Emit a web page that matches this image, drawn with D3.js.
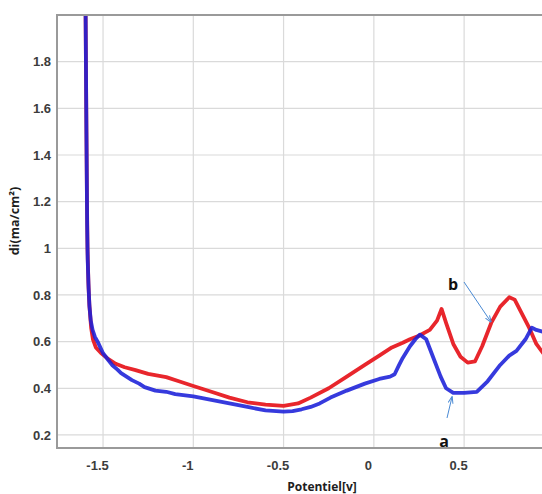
<!DOCTYPE html>
<html>
<head>
<meta charset="utf-8">
<script src="https://cdn.jsdelivr.net/npm/d3@7"></script>
<style>
  html, body { margin: 0; padding: 0; background: #ffffff; }
  svg { display: block; }
</style>
</head>
<body>
<svg id="chart" width="542" height="494"></svg>
<script>
// Axis ticks
const xTicks = [-1.5, -1, -0.5, 0, 0.5];
const xTickLabels = ["-1.5", "-1", "-0.5", "0", "0.5"];
const yTicks = [0.2, 0.4, 0.6, 0.8, 1.0, 1.2, 1.4, 1.6, 1.8];
const yTickLabels = ["0.2", "0.4", "0.6", "0.8", "1", "1.2", "1.4", "1.6", "1.8"];

// Curve a (blue): potential [V] and current density [mA/cm²]
const potentialA = [-1.597, -1.592, -1.588, -1.585, -1.580, -1.575, -1.568, -1.558, -1.545, -1.530,
  -1.500, -1.470, -1.450, -1.420, -1.400, -1.370, -1.340, -1.300, -1.270, -1.210,
  -1.150, -1.100, -1.000, -0.900, -0.800, -0.700, -0.600, -0.500, -0.450, -0.400,
  -0.350, -0.300, -0.240, -0.150, -0.050, 0.030, 0.090, 0.115, 0.140, 0.160,
  0.200, 0.230, 0.255, 0.290, 0.330, 0.370, 0.400, 0.440, 0.500, 0.570,
  0.630, 0.700, 0.750, 0.790, 0.840, 0.875, 0.900, 0.948];
const currentA = [2.05, 1.50, 1.10, 0.95, 0.83, 0.75, 0.69, 0.65, 0.62, 0.60,
  0.55, 0.52, 0.50, 0.48, 0.465, 0.45, 0.435, 0.42, 0.405, 0.39,
  0.385, 0.375, 0.365, 0.35, 0.335, 0.32, 0.305, 0.30, 0.302, 0.31,
  0.32, 0.335, 0.36, 0.39, 0.42, 0.44, 0.45, 0.46, 0.50, 0.53,
  0.58, 0.61, 0.63, 0.61, 0.53, 0.45, 0.40, 0.38, 0.38, 0.385,
  0.43, 0.50, 0.54, 0.56, 0.61, 0.66, 0.65, 0.64];

// Curve b (red)
const potentialB = [-1.597, -1.593, -1.589, -1.586, -1.581, -1.576, -1.566, -1.556, -1.540, -1.510,
  -1.470, -1.430, -1.380, -1.320, -1.250, -1.150, -1.080, -1.000, -0.900, -0.800,
  -0.700, -0.600, -0.500, -0.420, -0.350, -0.250, -0.150, -0.050, 0.030, 0.100,
  0.160, 0.200, 0.250, 0.310, 0.350, 0.375, 0.400, 0.440, 0.480, 0.520,
  0.560, 0.600, 0.650, 0.700, 0.750, 0.780, 0.820, 0.860, 0.900, 0.948];
const currentB = [2.05, 1.60, 1.20, 1.00, 0.85, 0.76, 0.66, 0.61, 0.575, 0.55,
  0.525, 0.505, 0.49, 0.478, 0.462, 0.448, 0.43, 0.41, 0.385, 0.36,
  0.34, 0.33, 0.325, 0.335, 0.36, 0.40, 0.45, 0.50, 0.54, 0.575,
  0.595, 0.61, 0.625, 0.65, 0.69, 0.74, 0.68, 0.59, 0.535, 0.51,
  0.515, 0.58, 0.68, 0.75, 0.79, 0.78, 0.72, 0.66, 0.59, 0.54];

const svg = d3.select("#chart");
const plot = { left: 57, right: 545, top: 15, bottom: 448 };

const x = d3.scaleLinear().domain([-1.755, 0.948]).range([plot.left, plot.right]);
const y = d3.scaleLinear().domain([0.144, 2.0]).range([plot.bottom, plot.top]);

// Gridlines
const grid = svg.append("g").attr("stroke", "#dadada").attr("stroke-width", 1.2);
grid.selectAll("line.h").data(yTicks).join("line")
  .attr("x1", plot.left).attr("x2", 542)
  .attr("y1", d => y(d)).attr("y2", d => y(d));
grid.selectAll("line.v").data(xTicks).join("line")
  .attr("x1", d => x(d)).attr("x2", d => x(d))
  .attr("y1", plot.top).attr("y2", plot.bottom);

// Curves, clipped to the plotting frame
svg.append("clipPath").attr("id", "plotClip")
  .append("rect").attr("x", plot.left).attr("y", plot.top)
  .attr("width", 542 - plot.left).attr("height", plot.bottom - plot.top);

const line = d3.line().x(d => x(d[0])).y(d => y(d[1]));
const curves = svg.append("g").attr("clip-path", "url(#plotClip)");
curves.append("path")
  .datum(d3.zip(potentialB, currentB))
  .attr("d", line)
  .attr("fill", "none").attr("stroke", "#e8262c").attr("stroke-width", 3.8)
  .attr("stroke-linejoin", "round").attr("stroke-linecap", "round");
curves.append("path")
  .datum(d3.zip(potentialA, currentA))
  .attr("d", line)
  .attr("fill", "none").attr("stroke", "#1a1fd8").attr("stroke-width", 3.8)
  .attr("stroke-opacity", 0.88)
  .attr("stroke-linejoin", "round").attr("stroke-linecap", "round");

// Frame
const frame = svg.append("g").attr("stroke", "#9a9a9a").attr("stroke-width", 2).attr("fill", "none");
frame.append("path").attr("d", `M542,${plot.top}H${plot.left}V${plot.bottom}H542`);

// Axes
const yAxis = d3.axisLeft(y).tickValues(yTicks)
  .tickFormat((d, i) => yTickLabels[i]).tickSize(0).tickPadding(6);
const gy = svg.append("g").attr("transform", `translate(${plot.left},0)`).call(yAxis);
gy.select(".domain").remove();
gy.selectAll("text")
  .attr("font-family", "Liberation Sans, Arial, sans-serif")
  .attr("font-weight", "bold").attr("font-size", 13).attr("fill", "#3c3c3c");

const xAxis = d3.axisBottom(x).tickValues(xTicks)
  .tickFormat((d, i) => xTickLabels[i]).tickSize(0).tickPadding(13);
const gx = svg.append("g").attr("transform", `translate(0,${plot.bottom})`).call(xAxis);
gx.select(".domain").remove();
gx.selectAll("text")
  .attr("dx", -6)
  .attr("font-family", "Liberation Sans, Arial, sans-serif")
  .attr("font-weight", "bold").attr("font-size", 13).attr("fill", "#3c3c3c");

// Axis titles
svg.append("text")
  .attr("transform", "translate(19,221) rotate(-90)")
  .attr("text-anchor", "middle")
  .attr("font-family", "Open Sans, sans-serif").attr("font-weight", "bold")
  .attr("font-size", 12.5).attr("fill", "#1e1e1e")
  .text("di(ma/cm²)");
svg.append("text")
  .attr("x", 322).attr("y", 491)
  .attr("text-anchor", "middle")
  .attr("font-family", "Open Sans, sans-serif").attr("font-weight", "bold")
  .attr("font-size", 12).attr("fill", "#1e1e1e")
  .text("Potentiel[v]");

// Curve labels with pointer arrows
svg.append("defs").append("marker")
  .attr("id", "arrowHead").attr("viewBox", "0 0 10 10")
  .attr("refX", 9).attr("refY", 5)
  .attr("markerWidth", 7).attr("markerHeight", 7)
  .attr("orient", "auto")
  .append("path").attr("d", "M0,1.5L10,5L0,8.5").attr("fill", "none")
  .attr("stroke", "#4a8ad4").attr("stroke-width", 1.4);

const labels = [
  { text: "b", tx: 453, ty: 290, from: [464, 282], to: [491, 322] },
  { text: "a", tx: 444, ty: 447, from: [447, 418], to: [452, 397] }
];
labels.forEach(l => {
  svg.append("line")
    .attr("x1", l.from[0]).attr("y1", l.from[1])
    .attr("x2", l.to[0]).attr("y2", l.to[1])
    .attr("stroke", "#4a8ad4").attr("stroke-width", 1)
    .attr("marker-end", "url(#arrowHead)");
  svg.append("text")
    .attr("x", l.tx).attr("y", l.ty)
    .attr("text-anchor", "middle")
    .attr("font-family", "Open Sans, sans-serif").attr("font-weight", "bold")
    .attr("font-size", 16).attr("fill", "#111")
    .text(l.text);
});
</script>
</body>
</html>
